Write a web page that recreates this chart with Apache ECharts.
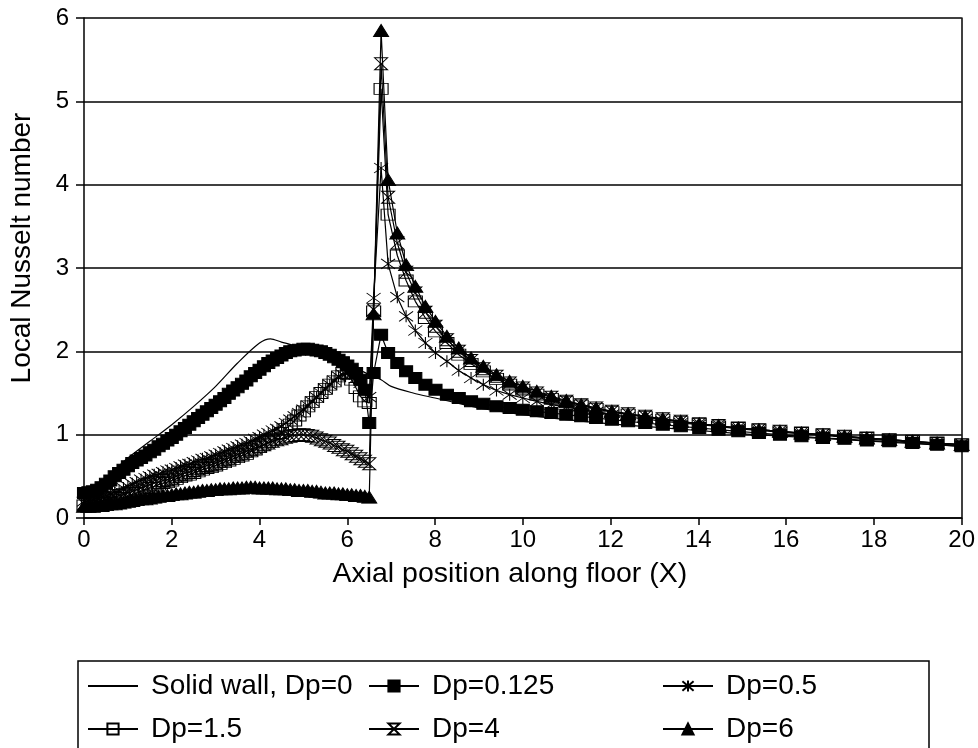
<!DOCTYPE html>
<html>
<head>
<meta charset="utf-8">
<script src="https://cdn.jsdelivr.net/npm/echarts@6/dist/echarts.min.js"></script>
<style>
html,body{margin:0;padding:0;background:#fff;}
#chart{width:978px;height:748px;}
</style>
</head>
<body>
<div id="chart"></div>
<script>
// ---- data ----
const seriesNames = ['Solid wall, Dp=0', 'Dp=0.125', 'Dp=0.5', 'Dp=1.5', 'Dp=4', 'Dp=6'];

const xTicks = [0, 2, 4, 6, 8, 10, 12, 14, 16, 18, 20];
const yTicks = [0, 1, 2, 3, 4, 5, 6];

// solid wall curve
const solidX = [0, 0.25, 0.5, 0.75, 1, 1.5, 2, 2.5, 3, 3.5, 4, 4.25, 4.5, 5, 5.5, 6, 6.5, 6.77, 7, 7.5, 8, 8.5, 9, 9.5, 10, 11, 12, 13, 14, 15, 16, 17, 18, 19, 20];
const solidY = [0.22, 0.3, 0.45, 0.6, 0.72, 0.92, 1.12, 1.34, 1.58, 1.86, 2.1, 2.15, 2.11, 2.04, 1.96, 1.85, 1.72, 1.66, 1.58, 1.5, 1.44, 1.38, 1.32, 1.28, 1.24, 1.18, 1.13, 1.09, 1.05, 1.01, 0.98, 0.95, 0.92, 0.89, 0.86];

// positions of the porous-floor nodes (shared by the Dp series)
const xLeft = [0, 0.1, 0.2, 0.3, 0.4, 0.5, 0.6, 0.7, 0.8, 0.9,
  1, 1.1, 1.2, 1.3, 1.4, 1.5, 1.6, 1.7, 1.8, 1.9,
  2, 2.1, 2.2, 2.3, 2.4, 2.5, 2.6, 2.7, 2.8, 2.9,
  3, 3.1, 3.2, 3.3, 3.4, 3.5, 3.6, 3.7, 3.8, 3.9,
  4, 4.1, 4.2, 4.3, 4.4, 4.5, 4.6, 4.7, 4.8, 4.9,
  5, 5.1, 5.2, 5.3, 5.4, 5.5, 5.6, 5.7, 5.8, 5.9,
  6, 6.1, 6.2, 6.3, 6.4];
const xSpike = [6.5, 6.6];
const xRight = [6.77, 6.93, 7.14, 7.34, 7.55, 7.78, 8.01, 8.27, 8.54, 8.82, 9.1, 9.4, 9.7, 10.0, 10.32, 10.65, 10.99, 11.33, 11.67, 12.03, 12.4, 12.79, 13.19, 13.6, 14.02, 14.46, 14.91, 15.38, 15.86, 16.35, 16.84, 17.33, 17.84, 18.35, 18.88, 19.44, 20.0];

// Dp = 0.125
const d0125Left = [0.30, 0.31, 0.32, 0.34, 0.37, 0.41, 0.45, 0.50, 0.54, 0.58,
  0.62, 0.66, 0.69, 0.72, 0.75, 0.79, 0.82, 0.86, 0.89, 0.93,
  0.96, 1.00, 1.04, 1.08, 1.12, 1.16, 1.20, 1.24, 1.28, 1.32,
  1.36, 1.40, 1.44, 1.49, 1.53, 1.57, 1.61, 1.65, 1.70, 1.74,
  1.78, 1.82, 1.86, 1.89, 1.92, 1.95, 1.98, 2.00, 2.01, 2.02,
  2.03, 2.03, 2.02, 2.01, 2.00, 1.98, 1.96, 1.93, 1.90, 1.87,
  1.83, 1.79, 1.74, 1.66, 1.54];
const d0125Spike = [1.14, 1.74];
const d0125Right = [2.2, 1.98, 1.86, 1.76, 1.68, 1.6, 1.54, 1.48, 1.44, 1.4, 1.37, 1.34, 1.32, 1.3, 1.28, 1.26, 1.24, 1.22, 1.2, 1.18, 1.16, 1.14, 1.12, 1.1, 1.08, 1.06, 1.04, 1.02, 1.0, 0.98, 0.96, 0.95, 0.93, 0.92, 0.9, 0.88, 0.86];

// Dp = 0.5
const d05Left = [0.20, 0.21, 0.22, 0.24, 0.25, 0.27, 0.29, 0.31, 0.33, 0.36,
  0.38, 0.41, 0.43, 0.46, 0.48, 0.50, 0.52, 0.53, 0.55, 0.57,
  0.58, 0.60, 0.62, 0.64, 0.65, 0.67, 0.69, 0.71, 0.72, 0.74,
  0.76, 0.78, 0.80, 0.82, 0.84, 0.86, 0.88, 0.90, 0.92, 0.95,
  0.97, 1.00, 1.02, 1.05, 1.07, 1.10, 1.14, 1.18, 1.22, 1.26,
  1.30, 1.35, 1.40, 1.45, 1.50, 1.55, 1.60, 1.65, 1.70, 1.72,
  1.74, 1.72, 1.68, 1.62, 1.55];
const d05Spike = [1.45, 2.64];
const d05Right = [4.2, 3.05, 2.65, 2.42, 2.25, 2.1, 1.98, 1.88, 1.77, 1.68, 1.6, 1.53, 1.48, 1.44, 1.4, 1.36, 1.33, 1.3, 1.27, 1.24, 1.21, 1.19, 1.16, 1.14, 1.12, 1.1, 1.07, 1.05, 1.03, 1.01, 0.99, 0.97, 0.95, 0.93, 0.91, 0.89, 0.87];

// Dp = 1.5
const d15Left = [0.15, 0.15, 0.16, 0.16, 0.17, 0.18, 0.19, 0.21, 0.22, 0.24,
  0.26, 0.28, 0.30, 0.32, 0.34, 0.36, 0.38, 0.40, 0.42, 0.43,
  0.45, 0.47, 0.49, 0.51, 0.52, 0.54, 0.56, 0.58, 0.60, 0.61,
  0.63, 0.65, 0.67, 0.69, 0.71, 0.73, 0.75, 0.77, 0.80, 0.82,
  0.85, 0.88, 0.91, 0.94, 0.98, 1.02, 1.07, 1.12, 1.17, 1.23,
  1.28, 1.34, 1.39, 1.45, 1.50, 1.55, 1.60, 1.64, 1.70, 1.74,
  1.73, 1.66, 1.56, 1.46, 1.40];
const d15Spike = [1.38, 2.48];
const d15Right = [5.15, 3.64, 3.15, 2.85, 2.6, 2.4, 2.24, 2.1, 1.96, 1.85, 1.76, 1.67, 1.6, 1.54, 1.48, 1.43, 1.39, 1.35, 1.31, 1.27, 1.24, 1.21, 1.18, 1.15, 1.13, 1.1, 1.08, 1.06, 1.04, 1.02, 1.0, 0.98, 0.96, 0.94, 0.92, 0.9, 0.88];

// Dp = 4
const d4Left = [0.17, 0.17, 0.18, 0.19, 0.20, 0.22, 0.23, 0.25, 0.27, 0.28,
  0.30, 0.32, 0.34, 0.36, 0.38, 0.40, 0.42, 0.43, 0.45, 0.46,
  0.48, 0.50, 0.52, 0.54, 0.55, 0.57, 0.59, 0.61, 0.63, 0.64,
  0.66, 0.68, 0.70, 0.72, 0.74, 0.76, 0.78, 0.80, 0.82, 0.84,
  0.86, 0.88, 0.90, 0.92, 0.94, 0.95, 0.97, 0.98, 0.99, 1.00,
  1.00, 0.99, 0.98, 0.96, 0.94, 0.92, 0.90, 0.87, 0.85, 0.82,
  0.80, 0.77, 0.74, 0.71, 0.68];
const d4Spike = [0.65, 2.5];
const d4Right = [5.45, 3.85, 3.3, 2.95, 2.7, 2.47, 2.3, 2.14, 2.0, 1.89, 1.79, 1.7, 1.62, 1.56, 1.5, 1.45, 1.4, 1.36, 1.32, 1.28, 1.25, 1.22, 1.19, 1.16, 1.13, 1.11, 1.08, 1.06, 1.04, 1.02, 1.0, 0.98, 0.96, 0.94, 0.92, 0.9, 0.88];

// Dp = 6
const d6Left = [0.14, 0.14, 0.14, 0.15, 0.15, 0.16, 0.17, 0.17, 0.18, 0.19,
  0.20, 0.21, 0.22, 0.23, 0.23, 0.24, 0.25, 0.26, 0.27, 0.27,
  0.28, 0.29, 0.29, 0.30, 0.31, 0.31, 0.32, 0.33, 0.33, 0.34,
  0.34, 0.35, 0.35, 0.35, 0.36, 0.36, 0.36, 0.37, 0.37, 0.37,
  0.36, 0.36, 0.36, 0.36, 0.35, 0.35, 0.35, 0.34, 0.34, 0.33,
  0.33, 0.33, 0.32, 0.32, 0.31, 0.30, 0.30, 0.30, 0.29, 0.29,
  0.28, 0.28, 0.27, 0.27, 0.26];
const d6Spike = [0.25, 2.45];
const d6Right = [5.85, 4.06, 3.42, 3.04, 2.78, 2.54, 2.36, 2.18, 2.04, 1.92, 1.82, 1.72, 1.64, 1.58, 1.52, 1.46, 1.41, 1.36, 1.32, 1.28, 1.25, 1.22, 1.19, 1.16, 1.13, 1.11, 1.08, 1.06, 1.04, 1.02, 1.0, 0.98, 0.96, 0.94, 0.92, 0.9, 0.88];

// ---- build ----
const FONT = '"Liberation Sans", Arial, Helvetica, sans-serif';
const xAll = xLeft.concat(xSpike, xRight);
function pairs(xs, ys) { return xs.map((x, i) => [x, ys[i]]); }

const asterisk = 'path://M7,0L7,12M1,1L13,11M13,1L1,11';
const hourglass = 'path://M0,0L12,0L0,12L12,12Z';
const plainLine = 'path://M0,0L50,0L50,2L0,2Z';

function markerSeries(name, ys, symbol, size, fill) {
  return {
    name: name, type: 'line', data: pairs(xAll, ys),
    symbol: symbol, symbolSize: size, showAllSymbol: true,
    lineStyle: { color: '#000', width: 1.2 },
    itemStyle: { color: fill, borderColor: '#000', borderWidth: 1 },
    emphasis: { disabled: true }
  };
}

const chart = echarts.init(document.getElementById('chart'), null, { renderer: 'canvas' });
const legendText = { fontFamily: FONT, fontSize: 28, color: '#000', padding: [0, 0, 0, 8] };
const legendCommon = { orient: 'vertical', itemWidth: 50, itemHeight: 14, itemGap: 15, textStyle: legendText, selectedMode: false, padding: 0 };

chart.setOption({
  animation: false,
  backgroundColor: '#fff',
  grid: { left: 80, right: 15, top: 18, bottom: 230 },
  xAxis: {
    type: 'value', min: xTicks[0], max: xTicks[xTicks.length - 1], interval: 2,
    name: 'Axial position along floor (X)', nameLocation: 'middle', nameGap: 42,
    nameTextStyle: { fontFamily: FONT, fontSize: 28.5, color: '#000', padding: [0, 26, 0, 0] },
    axisLine: { show: true, onZero: false, lineStyle: { color: '#000', width: 1.5 } },
    axisTick: { show: true, length: 7, lineStyle: { color: '#000', width: 1.5 } },
    axisLabel: { fontFamily: FONT, fontSize: 24, color: '#000', margin: 10 },
    splitLine: { show: false }
  },
  yAxis: [{
    type: 'value', min: yTicks[0], max: yTicks[yTicks.length - 1], interval: 1,
    name: 'Local Nusselt number', nameLocation: 'middle', nameGap: 48,
    nameTextStyle: { fontFamily: FONT, fontSize: 28, color: '#000', padding: [0, 0, 0, 40] },
    axisLine: { show: true, lineStyle: { color: '#000', width: 1.5 } },
    axisTick: { show: true, length: 8, lineStyle: { color: '#000', width: 1.5 } },
    axisLabel: { fontFamily: FONT, fontSize: 24, color: '#000', margin: 15 },
    splitLine: { show: true, lineStyle: { color: '#000', width: 1.5 } }
  }, {
    type: 'value', min: 0, max: 6, position: 'right',
    axisLine: { show: true, lineStyle: { color: '#000', width: 1.5 } },
    axisTick: { show: false }, axisLabel: { show: false }, splitLine: { show: false }
  }],
  legend: [
    Object.assign({ data: [{ name: seriesNames[0], icon: plainLine }, seriesNames[3]], left: 87, top: 672 }, legendCommon),
    Object.assign({ data: [seriesNames[1], seriesNames[4]], left: 368, top: 672 }, legendCommon),
    Object.assign({ data: [seriesNames[2], seriesNames[5]], left: 662, top: 672 }, legendCommon)
  ],
  graphic: [{
    type: 'rect', shape: { x: 78, y: 661, width: 851, height: 110 },
    style: { fill: 'none', stroke: '#000', lineWidth: 1.5 }, silent: true
  }],
  series: [
    {
      name: seriesNames[0], type: 'line', data: pairs(solidX, solidY), smooth: 0.3,
      symbol: 'none', lineStyle: { color: '#000', width: 1.2 }, itemStyle: { color: '#000' },
      emphasis: { disabled: true }
    },
    markerSeries(seriesNames[1], d0125Left.concat(d0125Spike, d0125Right), 'rect', [13, 11], '#000'),
    markerSeries(seriesNames[2], d05Left.concat(d05Spike, d05Right), asterisk, [14, 12], 'rgba(255,255,255,0)'),
    markerSeries(seriesNames[3], d15Left.concat(d15Spike, d15Right), 'rect', [14, 11], 'rgba(255,255,255,0)'),
    markerSeries(seriesNames[4], d4Left.concat(d4Spike, d4Right), hourglass, [13, 12], 'rgba(255,255,255,0)'),
    markerSeries(seriesNames[5], d6Left.concat(d6Spike, d6Right), 'triangle', [15, 12], '#000')
  ]
});
</script>
</body>
</html>
